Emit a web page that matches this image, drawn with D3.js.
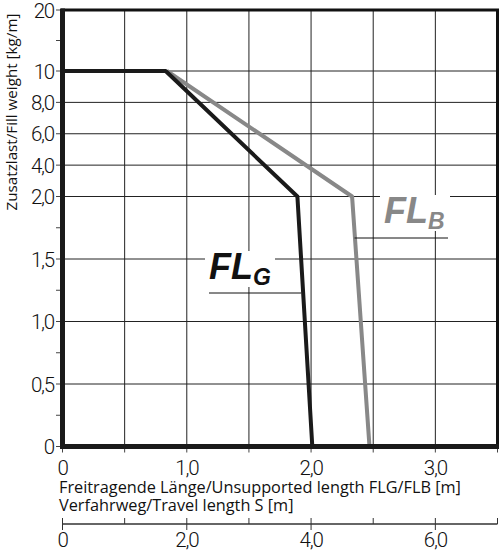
<!DOCTYPE html>
<meta charset="utf-8">
<style>
    body { margin: 0; background: #fff; }
    svg { display: block; }
    .tick-label { font-family: Roboto, "Liberation Sans Narrow", sans-serif; font-weight: 300; font-size: 20.5px; letter-spacing: -1.2px; fill: #111; }
    .title { font-family: "Open Sans", sans-serif; font-size: 16.3px; fill: #111; }
    .ytitle { font-family: "Open Sans", sans-serif; font-size: 15.2px; fill: #111; }
    .fl { font-family: "Liberation Sans", Arial, sans-serif; font-weight: bold; font-style: italic; }
</style>
<body>
<script src="https://cdnjs.cloudflare.com/ajax/libs/d3/7.8.5/d3.min.js"></script>
<script>
    // values
    const xTicks = [0, 1, 2, 3];
    const xTickLabels = ["0", "1,0", "2,0", "3,0"];
    const xGrid = [0.5, 1, 1.5, 2, 2.5, 3];
    const xMinor = [0, 0.5, 1, 1.5, 2, 2.5, 3, 3.5];

    const yTicks = [0, 0.5, 1, 1.5, 2, 4, 6, 8, 10, 20];
    const yTickLabels = ["0", "0,5", "1,0", "1,5", "2,0", "4,0", "6,0", "8,0", "10", "20"];
    const yGrid = [0.5, 1, 1.5, 2, 4, 6, 8, 10];
    const yMinor = [0.25, 0.75, 1.25, 1.75, 15];

    const sTicks = [0, 2, 4, 6];
    const sTickLabels = ["0", "2,0", "4,0", "6,0"];
    const sMinor = [1, 3, 5, 7];

    const flgX = [0, 0.83, 1.89, 2.01];
    const flgY = [10, 10, 2, 0];
    const flbX = [0.84, 2.33, 2.47];
    const flbY = [10, 2, 0];

    const width = 500, height = 556;

    const svg = d3.select("body").append("svg")
        .attr("width", width)
        .attr("height", height);

    const x = d3.scaleLinear().domain([0, 3.5]).range([62.5, 497.5]);
    // the value axis is stretched piecewise: 0..2, 2..10, 10..20
    const y = d3.scaleLinear().domain([0, 2, 10, 20]).range([446.5, 196.5, 71, 10]);
    const s = d3.scaleLinear().domain([0, 7]).range([62.5, 497.5]);

    // grid
    svg.append("g").selectAll("line.vg")
        .data(xGrid).enter().append("line")
        .attr("x1", d => x(d)).attr("x2", d => x(d))
        .attr("y1", y(20)).attr("y2", y(0))
        .attr("stroke", "#222").attr("stroke-width", 1);

    svg.append("g").selectAll("line.hg")
        .data(yGrid).enter().append("line")
        .attr("x1", x(0)).attr("x2", x(3.5))
        .attr("y1", d => y(d)).attr("y2", d => y(d))
        .attr("stroke", "#222").attr("stroke-width", 1);

    // y ticks
    svg.append("g").selectAll("line")
        .data(yTicks.concat(yMinor)).enter().append("line")
        .attr("x1", 56).attr("x2", x(0))
        .attr("y1", d => y(d)).attr("y2", d => y(d))
        .attr("stroke", "#444").attr("stroke-width", 1);

    svg.append("g").selectAll("text")
        .data(yTicks).enter().append("text")
        .attr("class", "tick-label")
        .attr("x", 54)
        .attr("y", d => y(d) + 7.5)
        .attr("text-anchor", "end")
        .text((d, i) => yTickLabels[i]);

    // x ticks
    svg.append("g").selectAll("line")
        .data(xMinor).enter().append("line")
        .attr("x1", d => x(d)).attr("x2", d => x(d))
        .attr("y1", y(0)).attr("y2", y(0) + 6)
        .attr("stroke", "#444").attr("stroke-width", 1);

    svg.append("g").selectAll("text")
        .data(xTicks).enter().append("text")
        .attr("class", "tick-label")
        .attr("x", d => x(d))
        .attr("y", 474.5)
        .attr("text-anchor", "middle")
        .text((d, i) => xTickLabels[i]);

    // frame
    svg.append("rect")
        .attr("x", x(0)).attr("y", y(20))
        .attr("width", x(3.5) - x(0)).attr("height", y(0) - y(20))
        .attr("fill", "none").attr("stroke", "#111").attr("stroke-width", 3);

    // travel length axis
    svg.append("line")
        .attr("x1", s(0)).attr("x2", s(7))
        .attr("y1", 524).attr("y2", 524)
        .attr("stroke", "#333").attr("stroke-width", 1.5);
    svg.append("g").selectAll("line")
        .data(sTicks).enter().append("line")
        .attr("x1", d => s(d)).attr("x2", d => s(d))
        .attr("y1", 518).attr("y2", 530)
        .attr("stroke", "#333").attr("stroke-width", 1);
    svg.append("g").selectAll("line")
        .data(sMinor).enter().append("line")
        .attr("x1", d => s(d)).attr("x2", d => s(d))
        .attr("y1", 518).attr("y2", 524)
        .attr("stroke", "#333").attr("stroke-width", 1);
    svg.append("g").selectAll("text")
        .data(sTicks).enter().append("text")
        .attr("class", "tick-label")
        .attr("x", d => s(d))
        .attr("y", 547)
        .attr("text-anchor", "middle")
        .text((d, i) => sTickLabels[i]);

    // axis titles
    svg.append("text").attr("class", "title")
        .attr("x", 59).attr("y", 493)
        .text("Freitragende Länge/Unsupported length FLG/FLB [m]");
    svg.append("text").attr("class", "title")
        .attr("x", 59).attr("y", 511)
        .text("Verfahrweg/Travel length S [m]");
    svg.append("text").attr("class", "ytitle")
        .attr("transform", "translate(16.5,112) rotate(-90)")
        .attr("text-anchor", "middle")
        .text("Zusatzlast/Fill weight [kg/m]");

    // curves
    const line = d3.line().x(d => x(d[0])).y(d => y(d[1]));

    svg.append("path")
        .datum(flbX.map((d, i) => [d, flbY[i]]))
        .attr("d", line)
        .attr("fill", "none").attr("stroke", "#888").attr("stroke-width", 4)
        .attr("stroke-linejoin", "round");

    svg.append("path")
        .datum(flgX.map((d, i) => [d, flgY[i]]))
        .attr("d", line)
        .attr("fill", "none").attr("stroke", "#1a1a1a").attr("stroke-width", 4)
        .attr("stroke-linejoin", "round");

    // thick axes
    svg.append("line")
        .attr("x1", x(0)).attr("x2", x(0))
        .attr("y1", y(20) - 1.5).attr("y2", y(0) + 2.5)
        .attr("stroke", "#1a1a1a").attr("stroke-width", 5);
    svg.append("line")
        .attr("x1", x(0) - 2.5).attr("x2", x(3.5) + 1.5)
        .attr("y1", y(0)).attr("y2", y(0))
        .attr("stroke", "#1a1a1a").attr("stroke-width", 5);

    // labels
    function flLabel(main, sub, lx, ly, color, lineFrom, lineTo, lineY) {
        const g = svg.append("g");
        g.append("rect")
            .attr("x", lx - 4).attr("y", ly - 28)
            .attr("width", 70).attr("height", 36)
            .attr("fill", "#fff");
        const t = g.append("text").attr("class", "fl")
            .attr("x", lx).attr("y", ly).attr("fill", color);
        t.append("tspan").attr("font-size", 36).text(main);
        t.append("tspan").attr("font-size", 23).attr("dy", 6).text(sub);
        g.append("line")
            .attr("x1", lineFrom).attr("x2", lineTo)
            .attr("y1", lineY).attr("y2", lineY)
            .attr("stroke", "#111").attr("stroke-width", 1);
    }
    flLabel("FL", "G", 209, 279, "#111", 209, x(1.92), 293);
    flLabel("FL", "B", 384, 223, "#888", x(2.35), 448, 238);
</script>
</body>
</html>
